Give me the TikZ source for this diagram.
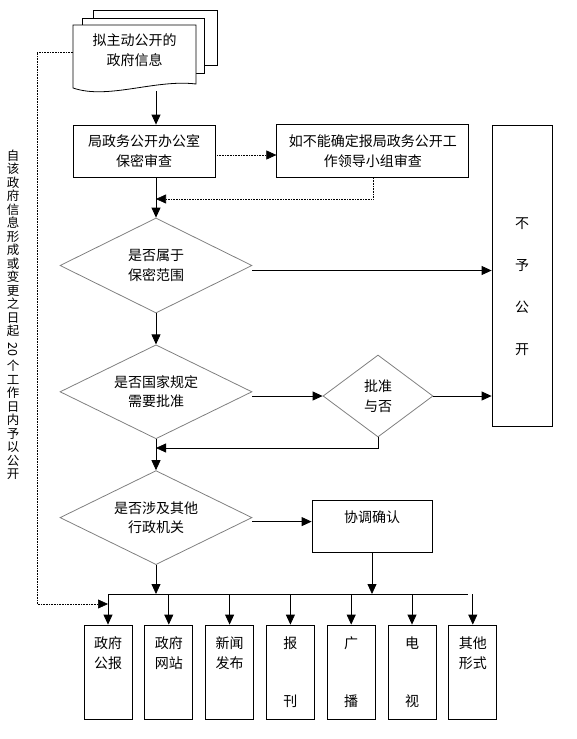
\documentclass[tikz,border=0pt]{standalone}
\usepackage{fontspec}
\newfontfamily\cjk{Noto Sans CJK SC}
\usetikzlibrary{shapes,arrows.meta,positioning,calc}

\tikzset{
  box/.style={draw, rectangle, align=center, inner sep=0pt},
  decision/.style={draw=black!50, diamond, align=center, inner sep=0pt, shape aspect=2},
  outlet/.style={box, minimum width=48pt, minimum height=94pt},
  link/.style={densely dotted, line width=0.6pt},
}

\begin{document}
\begin{tikzpicture}[x=1pt, y=-1pt, >={Triangle[length=10pt,width=9pt]}, line width=0.8pt, every node/.style={font=\cjk\fontsize{14}{19.5}\selectfont}]
    \useasboundingbox (0,0) rectangle (576,739);

    % stacked pages
    \draw [fill=white] (93,10) rectangle (217,65);
    \draw [fill=white] (82,18) rectangle (204,73);
    \draw [fill=white] (73,25) -- (196,25) -- (196,84) .. controls (155,79) and (108,100) .. (73,88) -- cycle;
    \node [align=center] (info) at (134.5,50) {拟主动公开的\\政府信息};
    \coordinate (infobot) at (156,91);
    \coordinate (pageleft) at (73,52);

    \node [box, minimum width=142pt, minimum height=52pt] (office) at (144,151) {局政务公开办公室\\保密审查};
    \node [box, minimum width=192pt, minimum height=53pt, right=61pt of office] (group) {如不能确定报局政务公开工\\作领导小组审查};
    \node [decision, minimum width=192pt, minimum height=95pt] (secret) at (156,265.5) {是否属于\\保密范围};
    \node [decision, minimum width=192pt, minimum height=94pt, below=31pt of secret] (approve) {是否国家规定\\需要批准};
    \node [decision, minimum width=192pt, minimum height=94pt, below=31pt of approve] (other) {是否涉及其他\\行政机关};
    \node [decision, shape aspect=1.34, minimum width=110pt, minimum height=82pt] (permit) at (378,396) {批准\\与否};
    \node [box, minimum width=60pt, minimum height=301pt] (nopub) at (522,275.5) {\rule{0pt}{34pt}不\\[22.5pt]予\\[22.5pt]公\\[22.5pt]开};
    \node [box, minimum width=120pt, minimum height=52pt] (coord) at (372,526) {协调确认\\~};

    \node [outlet] (out1) at (108,672) {政府\\公报\\~\\~};
    \node [outlet, right=12pt of out1] (out2) {政府\\网站\\~\\~};
    \node [outlet, right=12pt of out2] (out3) {新闻\\发布\\~\\~};
    \node [outlet, right=12pt of out3] (out4) {报\\~\\~\\刊};
    \node [outlet, right=12pt of out4] (out5) {广\\~\\~\\播};
    \node [outlet, right=12pt of out5] (out6) {电\\~\\~\\视};
    \node [outlet, right=12pt of out6] (out7) {其他\\形式\\~\\~};

    \node [align=center, font=\cjk\fontsize{12.5}{13.5}\selectfont] (note) at (13,315) {自\\该\\政\\府\\信\\息\\形\\成\\或\\变\\更\\之\\日\\起\\[4pt]\rotatebox[origin=c]{-90}{20}\\[4pt]个\\工\\作\\日\\内\\予\\以\\公\\开};

    \coordinate (back1) at (156,199);
    \coordinate (back2) at (156,448);
    \coordinate (busleft) at (108,594);
    \coordinate (busright) at (468,594);
    \coordinate (feed) at (108,604);

    \draw [->] (infobot) -- (infobot |- office.north);
    \draw [link, ->] ([yshift=-4pt]office.east) -- ([yshift=-4pt]office.east -| group.west);
    \draw [link, ->] (group.south) |- (back1);
    \draw [->] (secret.north |- office.south) -- (secret.north);
    \draw [->] ([yshift=-5pt]secret.east) -- ([yshift=-5pt]secret.east -| nopub.west);
    \draw [->] (secret) -- (approve);
    \draw [->] (approve.east |- permit) -- (permit.west);
    \draw [->] (permit.east) -- (permit.east -| nopub.west);
    \draw [->] (permit.south) |- (back2);
    \draw [->] (approve) -- (other);
    \draw [->] ([yshift=-4pt]other.east) -- ([yshift=-4pt]other.east -| coord.west);
    \draw (busleft) -- (busright);
    \draw [->] (other.south) -- (other.south |- busleft);
    \draw [->] (coord.south) -- (coord.south |- busleft);
    \foreach \i in {1,...,7}
        \draw [->] (out\i.north |- busleft) -- (out\i.north);
    \draw [link, ->] (pageleft) -- ++(-36,0) |- (feed);
\end{tikzpicture}
\end{document}
